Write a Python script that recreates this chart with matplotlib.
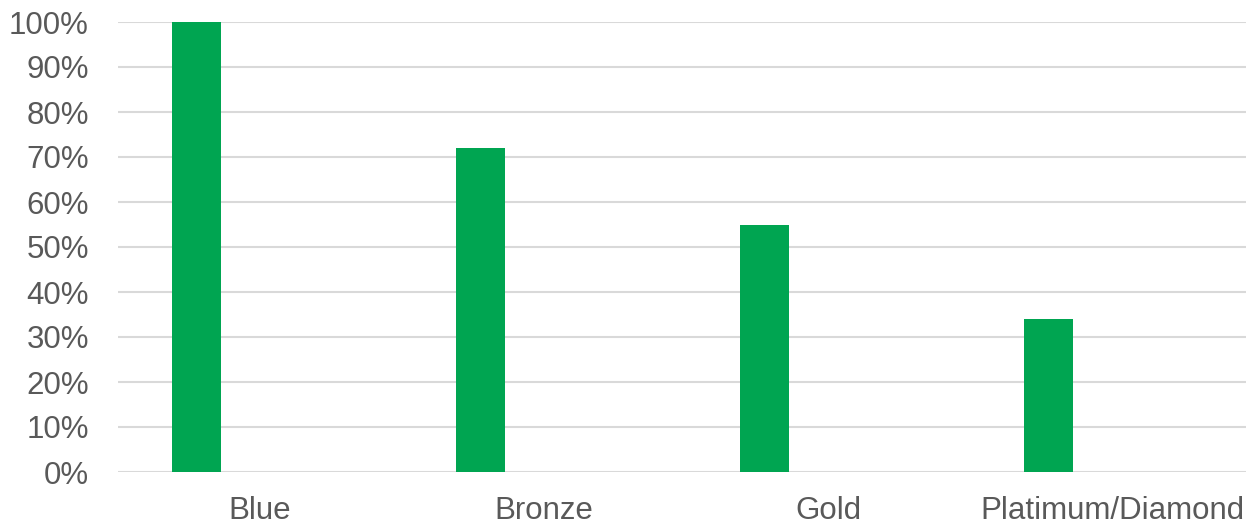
import matplotlib.pyplot as plt
import numpy as np
from matplotlib.ticker import FuncFormatter, MultipleLocator

plt.rcParams["font.family"] = ["Liberation Sans", "DejaVu Sans"]

tiers = ["Blue", "Bronze", "Gold", "Platimum/Diamond"]
share_pct = [100, 72, 55, 34]

W, H = 1246, 526
fig = plt.figure(figsize=(W / 100, H / 100), dpi=100)
# plot area runs a little past the right edge of the canvas
ax = fig.add_axes([118 / W, (H - 472) / H, 1136 / W, 450 / H])

x = np.arange(len(tiers))
ax.bar(x - 0.2236, share_pct, width=0.174, color="#00A551", zorder=3)

ax.set_xlim(-0.5, len(tiers) - 0.5)
ax.set_ylim(0, 100)
ax.yaxis.set_major_locator(MultipleLocator(10))
ax.yaxis.set_major_formatter(FuncFormatter(lambda v, _: f"{v:.0f}%"))
ax.set_xticks(x)
ax.set_xticklabels(tiers)

ax.grid(axis="y", color="#d9d9d9", linewidth=1.5, zorder=0)
for side in ax.spines.values():
    side.set_visible(False)
ax.tick_params(axis="both", length=0, labelsize=22.5, colors="#595959")
ax.tick_params(axis="y", pad=21)
ax.tick_params(axis="x", pad=17)

fig.savefig("out.png", dpi=100)
